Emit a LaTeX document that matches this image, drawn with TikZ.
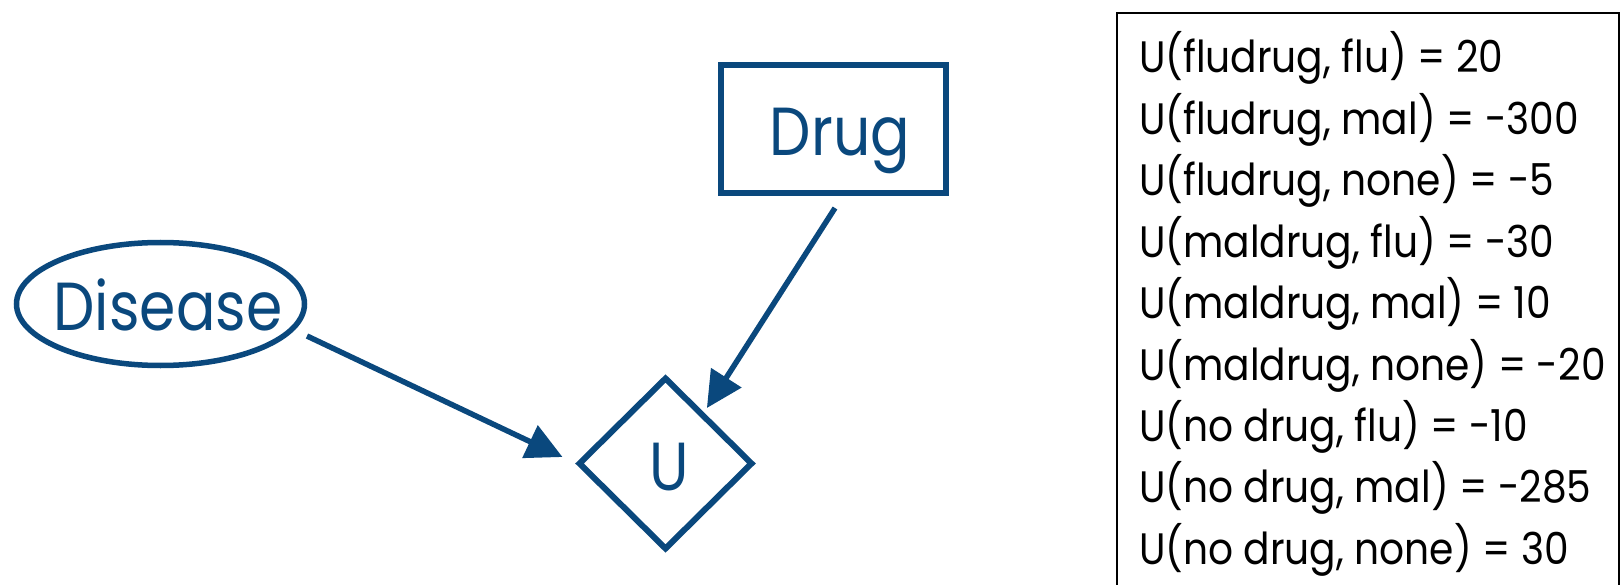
\documentclass[tikz,border=0pt]{standalone}
\usepackage{fontspec}
\setmainfont{Poppins}
\newfontfamily\tablefont[FakeStretch=0.89]{Poppins}
\newfontfamily\netfont[FakeStretch=0.86]{Poppins}
\usetikzlibrary{arrows.meta,shapes.geometric,calc}
\definecolor{navy}{RGB}{10,72,125}
\newcommand{\netlabel}[2]{\makebox[0pt]{\hspace*{#1}#2}}
\begin{document}
\begin{tikzpicture}[x=1pt,y=-1pt,
  every node/.style={inner sep=0pt, outer sep=0pt},
  netnode/.style={draw=navy, text=navy, font=\netfont\fontsize{68}{68}\selectfont,
    text height=48pt, text depth=0pt},
  link/.style={draw=navy, line width=5.5pt, -{Triangle[length=36pt,width=35pt]}},
  util/.style={anchor=base west, font=\tablefont\fontsize{44}{44}\selectfont}
]
\useasboundingbox (0,0) rectangle (1624,585);
\fill[white] (0,0) rectangle (1624,585);

% decision, chance and utility nodes
\node[netnode, rectangle, line width=6pt, minimum width=225pt, minimum height=128pt]
  (drug) at (833.5,129) {\raisebox{-3pt}{\netlabel{13pt}{Drug}}};
\node[netnode, ellipse, line width=5.5pt, minimum width=288pt, minimum height=123pt]
  (disease) at (160.5,304) {\raisebox{-2pt}{\netlabel{15pt}{Disease}}};
\node[netnode, diamond, line width=6pt, minimum width=172pt, minimum height=170pt]
  (u) at (665.5,463.5) {\raisebox{-3pt}{\netlabel{7pt}{U}}};

% influence arcs
\draw[link] ($(disease.east)+(2.5,32)$) -- ($(u.west)+(-17,-6.5)$);
\draw[link] ($(drug.south)+(1.5,15)$) -- ($(u.north east)+(-1.6,-13)$);

% utility table
\draw[line width=2.2pt] (1117,13) rectangle (1619,640);
\foreach \t [count=\i] in {{U(fludrug, flu) = 20},{U(fludrug, mal) = -300},
    {U(fludrug, none) = -5},{U(maldrug, flu) = -30},{U(maldrug, mal) = 10},
    {U(maldrug, none) = -20},{U(no drug, flu) = -10},{U(no drug, mal) = -285},
    {U(no drug, none) = 30}}
  \node[util] (row\i) at (1139,{73+61.4*(\i-1)}) {\t};
\end{tikzpicture}
\end{document}
